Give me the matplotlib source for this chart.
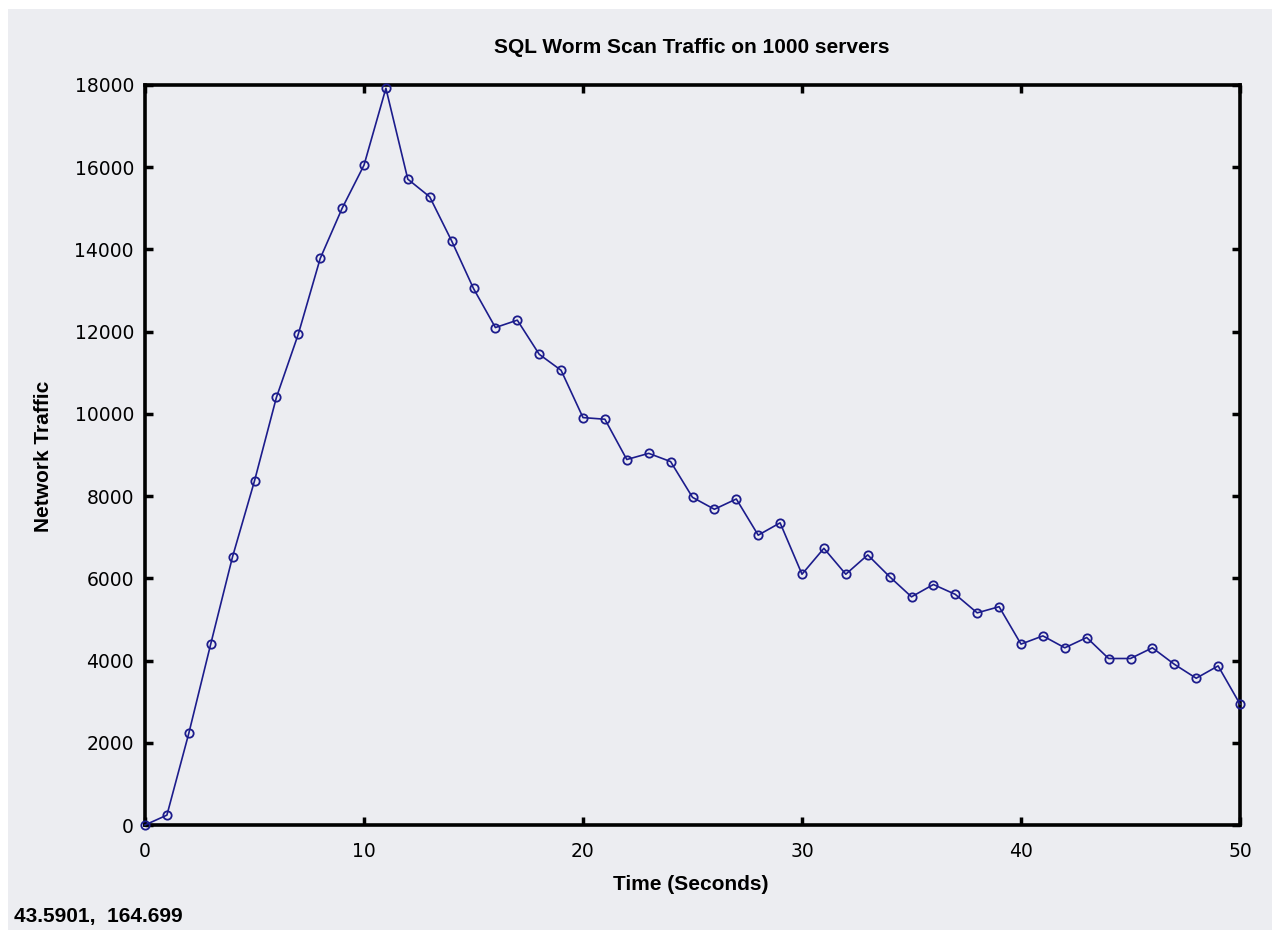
import numpy as np
import matplotlib.pyplot as plt
from matplotlib.patches import Rectangle

# data
time_s = list(range(0, 51))
traffic = [0, 240, 2230, 4400, 6530, 8370, 10400, 11940, 13780, 15000,
           16050, 17920, 15710, 15280, 14210, 13050, 12100, 12280, 11450, 11060,
           9910, 9870, 8890, 9040, 8840, 7970, 7680, 7930, 7050, 7350,
           6100, 6730, 6100, 6570, 6040, 5550, 5850, 5610, 5160, 5310,
           4400, 4600, 4310, 4560, 4050, 4050, 4310, 3910, 3570, 3870,
           2940]
xticks = [0, 10, 20, 30, 40, 50]
yticks = list(range(0, 18001, 2000))

bg = '#ecedf1'
line_col = '#1c1c8c'
lab_font = 'Liberation Sans'

fig = plt.figure(figsize=(12.72, 9.3), dpi=100)
fig.patch.set_facecolor('white')
# gray window area (white strip on top and left in the reference)
fig.patches.append(Rectangle((8 / 1272, 0), 1 - 8 / 1272, 921 / 930,
                             transform=fig.transFigure, facecolor=bg,
                             edgecolor='none', zorder=-10))

ax = fig.add_axes([145 / 1272, 105 / 930, 1095 / 1272, 740 / 930])
ax.set_facecolor(bg)
ax.plot(time_s, traffic, '-o', color=line_col, lw=1.2, ms=6,
        mfc='none', mec=line_col, mew=1.3, clip_on=False, zorder=3)

ax.set_xlim(0, 50)
ax.set_ylim(0, 18000)
ax.set_xticks(xticks)
ax.set_yticks(yticks)
ax.tick_params(direction='in', length=6, width=2.5, top=True, right=True,
               labelsize=13.5, pad=8, colors='black')
ax.tick_params(axis='x', pad=12)
for sp in ax.spines.values():
    sp.set_linewidth(2.6)

fig.text(692 / 1272, 1 - 53 / 930, 'SQL Worm Scan Traffic on 1000 servers',
         ha='center', va='baseline', fontsize=15, fontweight='bold',
         family=lab_font)
fig.text(691 / 1272, 1 - 890 / 930, 'Time (Seconds)', ha='center', va='baseline',
         fontsize=15, fontweight='bold', family=lab_font)
fig.text(44 / 1272, 1 - 456 / 930, 'Network Traffic', ha='center', va='center',
         rotation=90, fontsize=15, fontweight='bold', family=lab_font)
fig.text(14 / 1272, 1 - 922 / 930, '43.5901,  164.699', ha='left', va='baseline',
         fontsize=15, fontweight='bold', family=lab_font)

fig.savefig('out.png', dpi=100, facecolor=fig.get_facecolor())
